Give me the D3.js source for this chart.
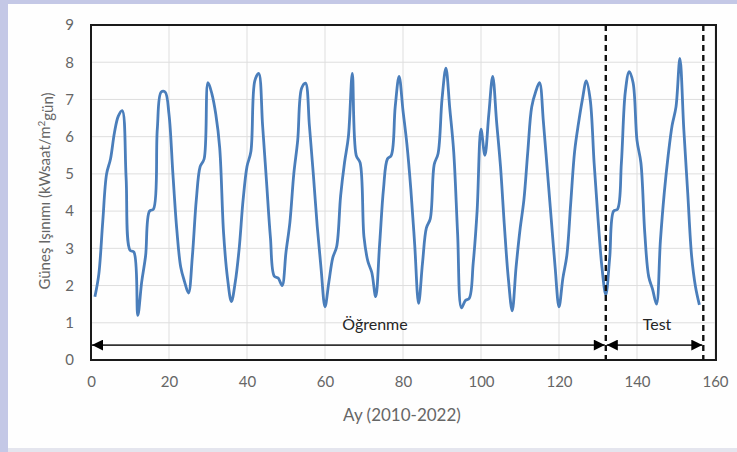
<!DOCTYPE html>
<html>
<head>
<meta charset="utf-8">
<script src="https://cdn.jsdelivr.net/npm/d3@7"></script>
<style>
  body { margin: 0; background: #ffffff; }
  svg { display: block; }
  text { font-family: Lato, "Open Sans", sans-serif; }
</style>
</head>
<body>
<svg id="chart" width="737" height="452"></svg>
<script>
// monthly solar radiation, months 1..156 (2010-2022)
var radiation = [
  1.7, 2.3, 3.7, 5.0, 5.4, 6.1, 6.55, 6.7, 4.9, 2.95, 2.9, 1.2,
  2.1, 2.8, 4.0, 4.05, 6.2, 7.2, 7.2, 6.6, 5.0, 3.5, 2.5, 2.1,
  1.8, 2.8, 4.3, 5.2, 5.4, 7.45, 7.15, 6.6, 5.7, 3.4, 2.2, 1.57,
  2.1, 3.0, 4.3, 5.2, 5.6, 7.5, 7.7, 6.3, 4.8, 3.3, 2.25, 2.2,
  2.0, 2.9, 3.7, 5.0, 5.9, 7.3, 7.44, 6.3, 5.0, 3.6, 2.45, 1.43,
  2.1, 2.75, 3.05, 4.4, 5.3, 6.0, 7.7, 5.5, 5.3, 3.3, 2.65, 2.35,
  1.7, 3.1, 4.6, 5.4, 5.5, 6.8, 7.62, 6.7, 5.8, 4.6, 3.1, 1.52,
  2.6, 3.55, 3.8, 5.25, 5.55, 7.0, 7.84, 6.75, 5.6, 3.4, 1.4, 1.6,
  1.66, 2.6, 4.0, 6.2, 5.5, 6.6, 7.62, 6.4, 5.2, 3.6, 2.2, 1.32,
  2.5, 3.5, 4.3, 5.6, 6.8, 7.2, 7.45, 6.4, 5.1, 3.8, 2.5, 1.43,
  2.2, 2.8, 4.2, 5.6, 6.36, 7.0, 7.5, 7.0, 5.3, 3.8, 2.5, 1.75,
  2.75, 4.0, 4.05, 5.3, 7.2, 7.75, 7.45, 5.9, 5.3, 3.4, 2.24, 1.9,
  1.5, 3.2, 4.5, 5.5, 6.3, 6.8, 8.1, 6.2, 4.5, 2.8, 1.97, 1.48
];
var months = d3.range(1, radiation.length + 1);

var xTicks = [0, 20, 40, 60, 80, 100, 120, 140, 160];
var yTicks = [0, 1, 2, 3, 4, 5, 6, 7, 8, 9];

// split points for the training / test ranges
var splits = [0, 132, 157];
var splitLabels = ["Öğrenme", "Test"];
var arrowLevel = 0.4;
var labelLevel = 0.95;

var svg = d3.select("#chart");

// background frame
svg.append("rect").attr("x", 0).attr("y", 0).attr("width", 737).attr("height", 452)
   .style("fill", "#c4c8e6");
svg.append("rect").attr("x", 8).attr("y", 4).attr("width", 729).attr("height", 444)
   .style("fill", "#fefefe");
svg.append("rect").attr("x", 8).attr("y", 448).attr("width", 729).attr("height", 4)
   .style("fill", "#e4e5ee");

var x = d3.scaleLinear().domain([0, 160]).range([91, 715]);
var y = d3.scaleLinear().domain([0, 9]).range([360, 25]);

// grid
svg.append("g").selectAll("line").data(yTicks).enter().append("line")
   .attr("x1", x(0)).attr("x2", x(160))
   .attr("y1", function(d){ return y(d); }).attr("y2", function(d){ return y(d); })
   .style("stroke", "#dedede").style("stroke-width", 1);
svg.append("g").selectAll("line").data(xTicks).enter().append("line")
   .attr("y1", y(0)).attr("y2", y(9))
   .attr("x1", function(d){ return x(d); }).attr("x2", function(d){ return x(d); })
   .style("stroke", "#dedede").style("stroke-width", 1);

// axes (labels only)
var xAxis = svg.append("g").attr("transform", "translate(0," + y(0) + ")")
   .call(d3.axisBottom(x).tickValues(xTicks).tickSize(0).tickPadding(16));
var yAxis = svg.append("g").attr("transform", "translate(" + x(0) + ",0)")
   .call(d3.axisLeft(y).tickValues(yTicks).tickSize(0).tickPadding(17));
[xAxis, yAxis].forEach(function(a){
  a.select(".domain").remove();
  a.selectAll("text").style("font-size", "15px").style("fill", "#666")
   .style("font-family", "Lato, sans-serif");
});

// series
var line = d3.line()
   .x(function(d, i){ return x(months[i]); })
   .y(function(d){ return y(d); })
   .curve(d3.curveCatmullRom.alpha(0.5));

svg.append("path").datum(radiation)
   .attr("d", line)
   .style("fill", "none")
   .style("stroke", "#4a7ebb")
   .style("stroke-width", 2.8)
   .style("stroke-linejoin", "round");

// plot frame
svg.append("rect").attr("x", x(0)).attr("y", y(9))
   .attr("width", x(160) - x(0) + 1).attr("height", y(0) - y(9))
   .style("fill", "none").style("stroke", "#1a1a1a").style("stroke-width", 2);

// dashed split lines
svg.append("g").selectAll("line").data(splits.slice(1)).enter().append("line")
   .attr("x1", function(d){ return x(d); }).attr("x2", function(d){ return x(d); })
   .attr("y1", y(9)).attr("y2", y(0))
   .style("stroke", "#111").style("stroke-width", 2.4)
   .style("stroke-dasharray", "6,4");

// arrow markers
var defs = svg.append("defs");
defs.append("marker").attr("id", "arrowEnd")
   .attr("viewBox", "0 0 10 10").attr("refX", 10).attr("refY", 5)
   .attr("markerUnits", "userSpaceOnUse")
   .attr("markerWidth", 12).attr("markerHeight", 11).attr("orient", "auto")
   .append("path").attr("d", "M0,0 L10,5 L0,10 Z").style("fill", "#000");
defs.append("marker").attr("id", "arrowStart")
   .attr("viewBox", "0 0 10 10").attr("refX", 0).attr("refY", 5)
   .attr("markerUnits", "userSpaceOnUse")
   .attr("markerWidth", 12).attr("markerHeight", 11).attr("orient", "auto")
   .append("path").attr("d", "M10,0 L0,5 L10,10 Z").style("fill", "#000");

var spans = splitLabels.map(function(l, i){ return {label: l, a: splits[i], b: splits[i + 1]}; });

svg.append("g").selectAll("line").data(spans).enter().append("line")
   .attr("x1", function(d){ return x(d.a) + 1; }).attr("x2", function(d){ return x(d.b) - 1; })
   .attr("y1", y(arrowLevel)).attr("y2", y(arrowLevel))
   .style("stroke", "#333").style("stroke-width", 1.6)
   .attr("marker-start", "url(#arrowStart)")
   .attr("marker-end", "url(#arrowEnd)");

svg.append("g").selectAll("text").data(spans).enter().append("text")
   .attr("x", function(d, i){ return i == 0 ? 375 : 657; })
   .attr("y", y(labelLevel))
   .attr("dy", "0.35em")
   .attr("text-anchor", "middle")
   .style("font-size", "16px").style("fill", "#262626")
   .text(function(d){ return d.label; });

// axis titles
svg.append("text")
   .attr("x", 402).attr("y", 415).attr("dy", "0.35em")
   .attr("text-anchor", "middle")
   .style("font-size", "17px").style("fill", "#666")
   .text("Ay (2010-2022)");

var yt = svg.append("text")
   .attr("transform", "translate(45,191) rotate(-90)")
   .attr("dy", "0.35em")
   .attr("text-anchor", "middle")
   .style("font-size", "15px").style("fill", "#666");
yt.append("tspan").text("Güneş Işınımı (kWsaat/m");
yt.append("tspan").attr("dy", "-0.5em").style("font-size", "10px").text("2");
yt.append("tspan").attr("dy", "0.5em").text("gün)");
</script>
</body>
</html>
